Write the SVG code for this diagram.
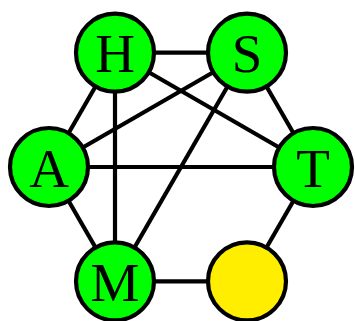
<svg xmlns="http://www.w3.org/2000/svg" width="355" height="321" viewBox="0 0 355 321">
  <style>
    .edge { stroke: #000; stroke-width: 4.2; fill: none; }
    .node { stroke: #000; stroke-width: 4.2; }
    .green { fill: #00ff00; }
    .yellow { fill: #ffee00; }
    .label { font-family: "Liberation Serif", "DejaVu Serif", serif; font-size: 55px; text-anchor: middle; fill: #000; }
  </style>
  <rect width="355" height="321" fill="#fff"/>
  <g id="edges">
    <line class="edge" x1="115" y1="52.7" x2="247" y2="52.7"/>
    <line class="edge" x1="115" y1="52.7" x2="49" y2="167"/>
    <line class="edge" x1="115" y1="52.7" x2="115" y2="281.3"/>
    <line class="edge" x1="115" y1="52.7" x2="313" y2="167"/>
    <line class="edge" x1="247" y1="52.7" x2="49" y2="167"/>
    <line class="edge" x1="247" y1="52.7" x2="115" y2="281.3"/>
    <line class="edge" x1="247" y1="52.7" x2="313" y2="167"/>
    <line class="edge" x1="49" y1="167" x2="313" y2="167"/>
    <line class="edge" x1="49" y1="167" x2="115" y2="281.3"/>
    <line class="edge" x1="115" y1="281.3" x2="247" y2="281.3"/>
    <line class="edge" x1="313" y1="167" x2="247" y2="281.3"/>
  </g>
  <g id="node-H">
    <circle class="node green" cx="115" cy="52.7" r="39"/>
    <text class="label" x="115" y="71.5">H</text>
  </g>
  <g id="node-S">
    <circle class="node green" cx="247" cy="52.7" r="39"/>
    <text class="label" x="247" y="71.5">S</text>
  </g>
  <g id="node-A">
    <circle class="node green" cx="49" cy="167" r="39"/>
    <text class="label" x="49" y="186.5">A</text>
  </g>
  <g id="node-T">
    <circle class="node green" cx="313" cy="167" r="39"/>
    <text class="label" x="313" y="186.5">T</text>
  </g>
  <g id="node-M">
    <circle class="node green" cx="115" cy="281.3" r="39"/>
    <text class="label" x="115" y="300.5">M</text>
  </g>
  <g id="node-Y">
    <circle class="node yellow" cx="247" cy="281.3" r="39"/>
  </g>
</svg>
